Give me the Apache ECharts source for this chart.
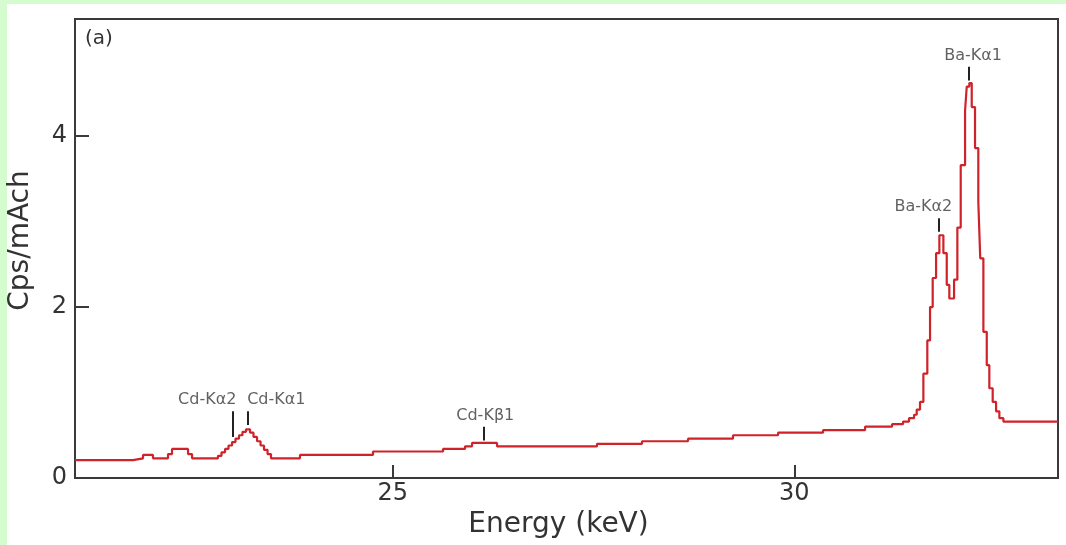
<!DOCTYPE html>
<html>
<head>
<meta charset="utf-8">
<script src="https://cdn.jsdelivr.net/npm/echarts@6/dist/echarts.min.js"></script>
<style>
  html, body { margin: 0; padding: 0; background: #ffffff; }
  #chart { width: 1066px; height: 545px; }
</style>
</head>
<body>
<div id="chart"></div>
<script>
// ---- data (step histogram: value holds from this energy to the next) ----
const energyKeV = [
  21.045, 21.767, 21.892, 22.016, 22.203, 22.253, 22.452, 22.502,
  22.825, 22.869, 22.913, 22.956, 23.000, 23.043, 23.087, 23.130, 23.174,
  23.224, 23.267, 23.311, 23.355, 23.398, 23.442, 23.485,
  23.846, 24.755, 25.627, 25.901, 25.988, 26.299, 27.544, 28.104, 28.677,
  29.237, 29.798, 30.358, 30.881, 31.217, 31.354, 31.428, 31.491, 31.524,
  31.565, 31.607, 31.656, 31.690, 31.723, 31.765, 31.806, 31.856, 31.898,
  31.930, 31.989, 32.030, 32.072, 32.126, 32.147, 32.179, 32.209, 32.250,
  32.291, 32.315, 32.354, 32.396, 32.428, 32.470, 32.512, 32.553, 32.603,
  33.283
];
const cpsPerMAch = [
  0.21, 0.23, 0.27, 0.23, 0.28, 0.34, 0.28, 0.23,
  0.26, 0.30, 0.34, 0.38, 0.42, 0.46, 0.50, 0.54, 0.57,
  0.53, 0.48, 0.43, 0.38, 0.33, 0.28, 0.23,
  0.27, 0.31, 0.34, 0.37, 0.41, 0.37, 0.40, 0.43, 0.46,
  0.50, 0.53, 0.56, 0.60, 0.63, 0.66, 0.70, 0.74, 0.80,
  0.89, 1.22, 1.61, 2.00, 2.34, 2.63, 2.84, 2.63, 2.26,
  2.10, 2.32, 2.93, 3.66, 4.30, 4.58, 4.62, 4.34, 3.86,
  3.23, 2.57, 1.71, 1.32, 1.05, 0.89, 0.78, 0.70, 0.66,
  0.66
];

// peak annotations
const peakNames  = ['Cd-K\u03b12', 'Cd-K\u03b11', 'Cd-K\u03b21', 'Ba-K\u03b12', 'Ba-K\u03b11'];
const peakEnergy = [23.003, 23.190, 26.128, 31.793, 32.176];
const peakTickLow  = [0.48, 0.62, 0.44, 2.88, 4.65];
const peakTickHigh = [0.78, 0.78, 0.60, 3.04, 4.81];

// axes
const xRange = [21.045, 33.283];
const yRange = [0, 5.37];
const xTickValues = [25, 30];
const yTickValues = [2, 4];
const yLabelValues = [0, 2, 4];

const panelLabel = '(a)';
const xName = 'Energy (keV)';
const yName = 'Cps/mAch';

// ---- chart ----
const FONT = 'DejaVu Sans';
const AXIS_COLOR = '#3a3a3a';
const TEXT_COLOR = '#333333';
const labelOffsetX = [-25, 29, 2, -15, 4];

const spectrum = energyKeV.map((e, i) => [e, cpsPerMAch[i]]);
const tickSegments = peakEnergy.map((e, i) => [
  { coord: [e, peakTickLow[i]] },
  { coord: [e, peakTickHigh[i]] }
]);
const labelPoints = peakEnergy.map((e, i) => ({
  value: [e, peakTickHigh[i]],
  name: peakNames[i],
  label: { offset: [labelOffsetX[i], 0] }
}));

const chart = echarts.init(document.getElementById('chart'), null, { renderer: 'canvas' });
chart.setOption({
  animation: false,
  backgroundColor: '#ffffff',
  grid: {
    left: 75, right: 8, top: 19, bottom: 67,
    show: true, borderColor: AXIS_COLOR, borderWidth: 2, backgroundColor: 'transparent',
    outerBoundsMode: 'none'
  },
  graphic: [
    { type: 'rect', left: 0, top: 0, shape: { width: 7, height: 545 }, style: { fill: '#d5fccf' }, silent: true },
    { type: 'rect', left: 0, top: 0, shape: { width: 1066, height: 4 }, style: { fill: '#d5fccf' }, silent: true },
    { type: 'text', left: 85, top: 29, style: { text: panelLabel, font: '20px "DejaVu Sans"', fill: TEXT_COLOR }, silent: true }
  ],
  xAxis: {
    type: 'value',
    min: xRange[0], max: xRange[1],
    splitLine: { show: false },
    axisLine: { show: true, onZero: false, lineStyle: { color: AXIS_COLOR, width: 2 } },
    axisTick: { show: true, inside: true, length: 13, customValues: xTickValues, lineStyle: { color: AXIS_COLOR, width: 2 } },
    axisLabel: { customValues: xTickValues, fontFamily: FONT, fontSize: 24, color: TEXT_COLOR, margin: 4 },
    name: xName, nameLocation: 'middle', nameGap: 31,
    nameTextStyle: { fontFamily: FONT, fontSize: 28, color: TEXT_COLOR, padding: [0, 16, 0, 0] }
  },
  yAxis: {
    type: 'value',
    min: yRange[0], max: yRange[1],
    splitLine: { show: false },
    axisLine: { show: true, onZero: false, lineStyle: { color: AXIS_COLOR, width: 2 } },
    axisTick: { show: true, inside: true, length: 14, customValues: yTickValues, lineStyle: { color: AXIS_COLOR, width: 2 } },
    axisLabel: { customValues: yLabelValues, fontFamily: FONT, fontSize: 24, color: TEXT_COLOR, margin: 8 },
    name: yName, nameLocation: 'middle', nameGap: 40,
    nameTextStyle: { fontFamily: FONT, fontSize: 28, color: TEXT_COLOR, padding: [0, 0, 0, 16] }
  },
  series: [
    {
      type: 'line',
      step: 'end',
      data: spectrum,
      showSymbol: false,
      symbol: 'none',
      lineStyle: { color: '#cf2229', width: 2.2 },
      z: 3,
      markLine: {
        silent: true,
        symbol: ['none', 'none'],
        label: { show: false },
        lineStyle: { color: '#222222', width: 2, type: 'solid' },
        data: tickSegments
      }
    },
    {
      type: 'scatter',
      data: labelPoints,
      symbolSize: 0,
      silent: true,
      label: {
        show: true,
        position: 'top',
        distance: 3,
        formatter: p => p.name,
        fontFamily: FONT,
        fontSize: 16,
        color: '#3a3a3a'
      }
    }
  ]
});
</script>
</body>
</html>
